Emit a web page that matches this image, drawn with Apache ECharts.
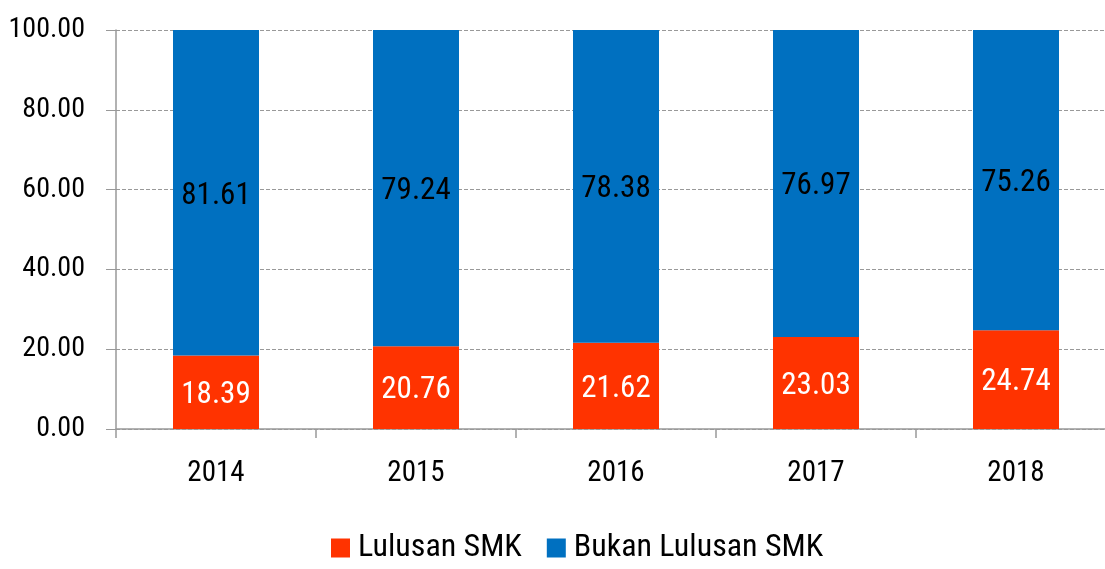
<!DOCTYPE html>
<html>
<head>
<meta charset="utf-8">
<script src="https://cdn.jsdelivr.net/npm/echarts@6/dist/echarts.min.js"></script>
<style>
    html, body { margin: 0; padding: 0; background: #fff; }
    #chart { width: 1105px; height: 569px; }
</style>
</head>
<body>
<div id="chart"></div>
<script>
    // data
    var years = ['2014', '2015', '2016', '2017', '2018'];
    var lulusanSmk = [18.39, 20.76, 21.62, 23.03, 24.74];
    var bukanLulusanSmk = [81.61, 79.24, 78.38, 76.97, 75.26];

    var font = '"Roboto Condensed", "Liberation Sans Narrow", "DejaVu Sans Condensed", Roboto, sans-serif';

    var myChart = echarts.init(document.getElementById('chart'));
    myChart.setOption({
        animation: false,
        textStyle: { fontFamily: font },
        // plot runs past the right edge, like the original
        grid: { left: 116, width: 1000, top: 30, bottom: 140, outerBoundsMode: 'none' },
        legend: {
            left: 326,
            bottom: 0,
            itemWidth: 19,
            itemHeight: 19,
            itemGap: 25,
            icon: 'rect',
            textStyle: { fontSize: 32, color: '#000', fontFamily: font, padding: [0, 0, 0, 3] },
            data: ['Lulusan SMK', 'Bukan Lulusan SMK']
        },
        xAxis: {
            type: 'category',
            data: years,
            axisLine: { lineStyle: { color: '#999', width: 1.5 } },
            axisTick: { show: true, length: 9, lineStyle: { color: '#999', width: 1.5 } },
            axisLabel: { fontSize: 29, color: '#000', margin: 30, fontFamily: font }
        },
        yAxis: {
            type: 'value',
            min: 0,
            max: 100,
            interval: 20,
            axisLine: { show: true, lineStyle: { color: '#999', width: 1.5 } },
            axisTick: { show: true, length: 10, lineStyle: { color: '#999' } },
            splitLine: { lineStyle: { color: '#999', type: 'dashed' } },
            axisLabel: {
                fontSize: 28, color: '#000', margin: 31, fontFamily: font,
                formatter: function (v) { return v.toFixed(2); }
            }
        },
        series: [
            {
                name: 'Lulusan SMK',
                type: 'bar',
                stack: 'total',
                barWidth: 86,
                itemStyle: { color: '#FF3300' },
                label: { show: true, position: 'inside', offset: [0, 3], color: '#fff', fontSize: 31, fontFamily: font,
                    formatter: function (p) { return p.value.toFixed(2); } },
                data: lulusanSmk
            },
            {
                name: 'Bukan Lulusan SMK',
                type: 'bar',
                stack: 'total',
                barWidth: 86,
                itemStyle: { color: '#0070C0' },
                label: { show: true, position: 'inside', offset: [0, 3], color: '#000', fontSize: 31, fontFamily: font,
                    formatter: function (p) { return p.value.toFixed(2); } },
                data: bukanLulusanSmk
            }
        ]
    });
</script>
</body>
</html>
